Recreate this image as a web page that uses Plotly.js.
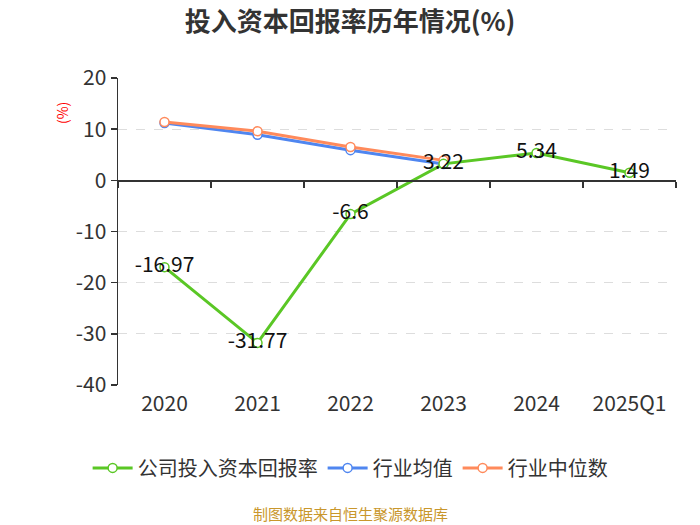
<!DOCTYPE html>
<html>
<head>
<meta charset="utf-8">
<script src="https://cdn.plot.ly/plotly-3.0.1.min.js"></script>
<style>body{margin:0;padding:0;background:#fff;} #chart{width:700px;height:525px;}</style>
</head>
<body>
<div id="chart"></div>
<script>
var categories = ["2020", "2021", "2022", "2023", "2024", "2025Q1"];
var companyValues = [-16.97, -31.77, -6.6, 3.22, 5.34, 1.49];
var industryAvg = [11.2, 8.9, 5.9, 3.2, null, null];
var industryMedian = [11.4, 9.6, 6.5, 3.9, null, null];
var seriesNames = ["公司投入资本回报率", "行业均值", "行业中位数"];
var yTicks = [20, 10, 0, -10, -20, -30, -40];
var yTickLabels = ["20", "10", "0", "-10", "-20", "-30", "-40"];
var boundaryTicks = [-0.5, 0.5, 1.5, 2.5, 3.5, 4.5, 5.5];

var font = "'Noto Sans CJK SC', 'Noto Sans', sans-serif";

var traces = [
  {
    x: categories, y: industryAvg, name: seriesNames[1], type: "scatter",
    mode: "lines+markers",
    line: {color: "#4f86f0", width: 3},
    marker: {symbol: "circle", size: 9, color: "#fff", line: {color: "#4f86f0", width: 1.5}},
    legendrank: 2
  },
  {
    x: categories, y: industryMedian, name: seriesNames[2], type: "scatter",
    mode: "lines+markers",
    line: {color: "#ff8a5b", width: 3},
    marker: {symbol: "circle", size: 9, color: "#fff", line: {color: "#ff8a5b", width: 1.5}},
    legendrank: 3
  },
  {
    x: categories, y: companyValues, name: seriesNames[0], type: "scatter",
    mode: "lines+markers+text",
    text: companyValues.map(String),
    textposition: "middle center",
    textfont: {size: 21, color: "#111", family: font},
    line: {color: "#5ac725", width: 3},
    marker: {symbol: "circle", size: 9, color: "#fff", line: {color: "#5ac725", width: 1.5}},
    legendrank: 1
  },
  {
    x: [], y: [], xaxis: "x2", yaxis: "y", type: "scatter", mode: "lines",
    showlegend: false, hoverinfo: "skip"
  }
];

var layout = {
  width: 700, height: 525,
  margin: {l: 118, r: 24, t: 78, b: 140, autoexpand: false},
  paper_bgcolor: "#fff", plot_bgcolor: "#fff",
  font: {family: font, color: "#333"},
  title: {
    text: "<b>投入资本回报率历年情况(%)</b>",
    font: {size: 26, color: "#333", family: font},
    x: 0.5, xanchor: "center", y: 0.958, yanchor: "middle"
  },
  xaxis: {
    type: "category", range: [-0.5, 5.5],
    showline: false, showgrid: false, zeroline: false, ticks: "",
    tickfont: {size: 21, color: "#333"}, ticklabelstandoff: 4, tickangle: 0
  },
  xaxis2: {
    type: "linear", overlaying: "x", anchor: "free", position: 40 / 60,
    range: [-0.5, 5.5], showline: true, linecolor: "#333", linewidth: 1.5,
    tickmode: "array", tickvals: boundaryTicks, ticks: "outside", ticklen: 6,
    tickcolor: "#333", tickwidth: 1.5, showticklabels: false, showgrid: false, zeroline: false
  },
  yaxis: {
    range: [-40, 20], tickmode: "array", tickvals: yTicks, ticktext: yTickLabels,
    showline: true, linecolor: "#333", linewidth: 1.5,
    ticks: "outside", ticklen: 6, tickcolor: "#333", tickwidth: 1.5,
    showgrid: true, gridcolor: "#dddddd", griddash: "dash", gridwidth: 1,
    zeroline: false,
    tickfont: {size: 21, color: "#333"}
  },
  showlegend: true,
  legend: {
    orientation: "h", x: 0.416, xanchor: "center", y: -0.27, yanchor: "middle",
    font: {size: 20, color: "#333"}, traceorder: "normal", itemwidth: 40
  },
  annotations: [
    {
      text: "(%)", xref: "paper", yref: "paper", x: -0.099, y: 0.885,
      showarrow: false, textangle: -90, font: {size: 14, color: "#ff0000"},
      xanchor: "center", yanchor: "middle"
    },
    {
      text: "制图数据来自恒生聚源数据库", xref: "paper", yref: "paper",
      x: 0.416, y: -0.42, showarrow: false,
      font: {size: 15, color: "#c9972c"}, xanchor: "center", yanchor: "middle"
    }
  ]
};

Plotly.newPlot("chart", traces, layout, {staticPlot: true, displayModeBar: false});
</script>
</body>
</html>
